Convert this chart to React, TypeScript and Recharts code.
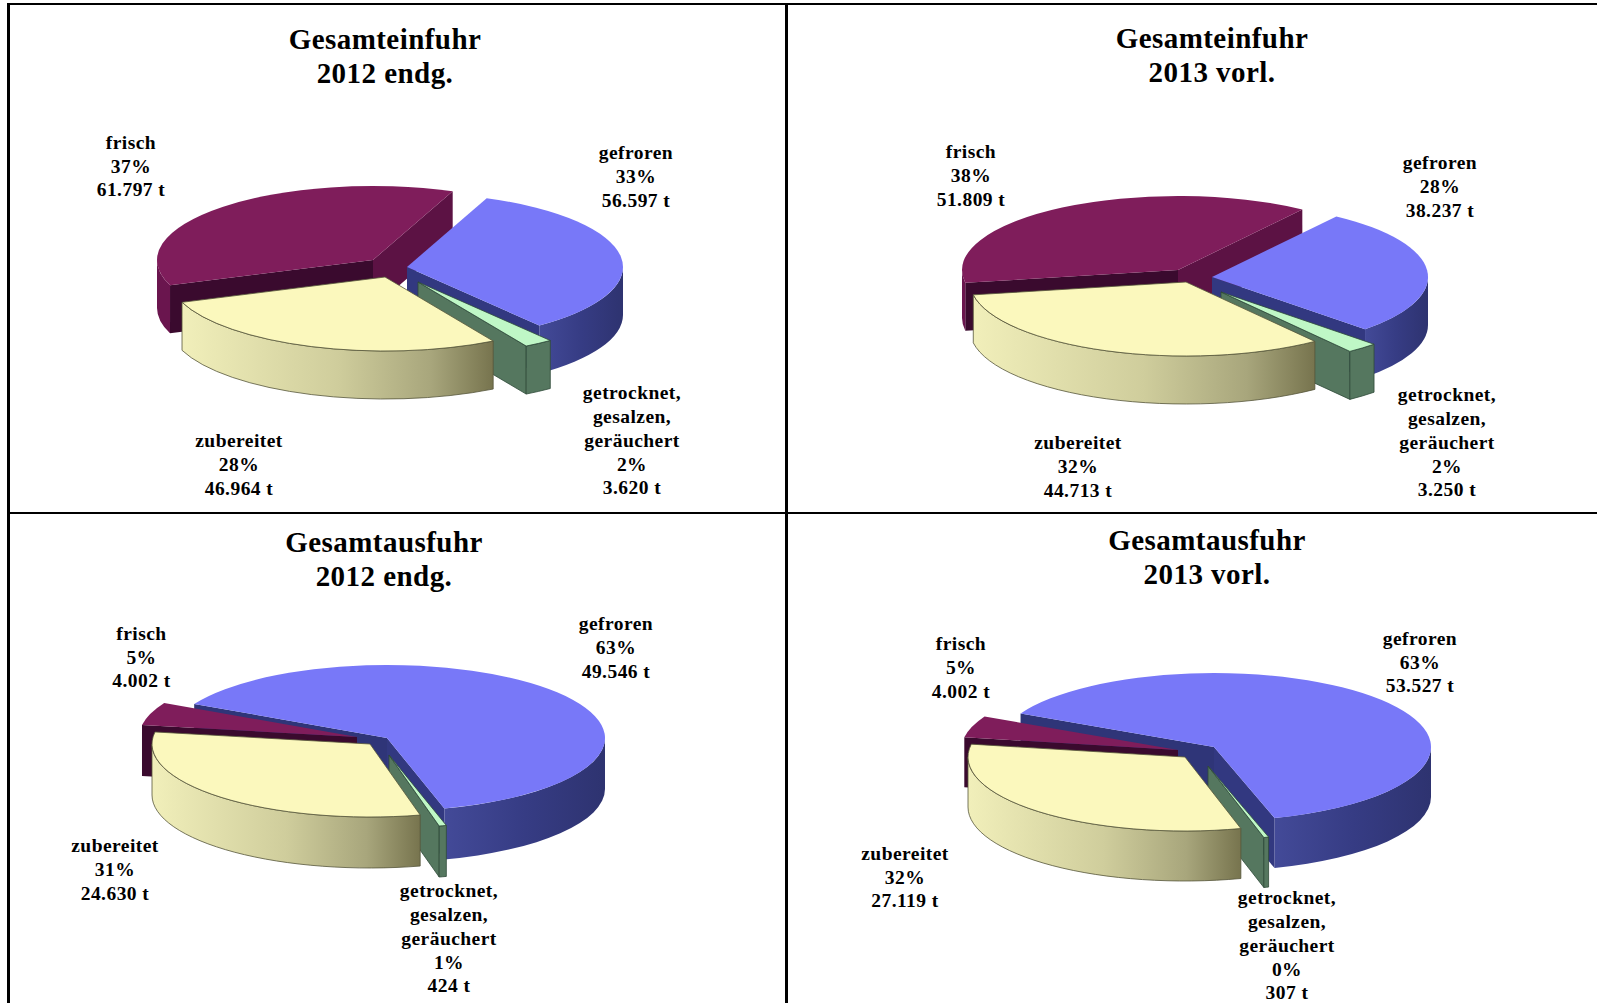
import React from "react";
import { PieChart, Pie } from "recharts";

const categories = ["frisch", "gefroren", "getrocknet", "zubereitet"];
const labelLines: Record<string, string[]> = {
  frisch: ["frisch"],
  gefroren: ["gefroren"],
  getrocknet: ["getrocknet,", "gesalzen,", "geräuchert"],
  zubereitet: ["zubereitet"],
};

const import2012 = [61797, 56597, 3620, 46964];
const import2013 = [51809, 38237, 3250, 44713];
const export2012 = [4002, 49546, 424, 24630];
const export2013 = [4002, 53527, 307, 27119];

const topColors = ["#7f1d5b", "#7878f8", "#bff7c6", "#fbf8bd"];
const wallColors = ["#6a154e", "#353b82", "#55775f", "#d8d6a4"];
const startWallColors = ["#3a0a2e", "#2f3578", "#55775f", "#d8d6a4"];
const endWallColors = ["#5c1244", "#323880", "#55775f", "#d8d6a4"];

type Panel = {
  id: string;
  title: string[];
  titleX: number;
  titleY: number;
  values: number[];
  cx: number;
  cy: number;
  rx: number;
  ry: number;
  depth: number;
  startAngle: number;
  explode: number[][];
  labels: number[][];
  layers: number[][];
};

const panels: Panel[] = [
  {
    id: "a", title: ["Gesamteinfuhr", "2012 endg."], titleX: 385, titleY: 39, values: import2012,
    cx: 390, cy: 270, rx: 216, ry: 74, depth: 48, startAngle: 200,
    explode: [[-17, -10], [17, -3], [28, 12], [-5, 7]],
    labels: [[131, 142.5], [636, 153], [632, 393], [239, 441]],
    layers: [[0, 1, 2, 3]],
  },
  {
    id: "b", title: ["Gesamteinfuhr", "2013 vorl."], titleX: 1212, titleY: 38, values: import2013,
    cx: 1195, cy: 278, rx: 216, ry: 74, depth: 48, startAngle: 190,
    explode: [[-17, -8], [17, -1], [26, 14], [-9, 4]],
    labels: [[971, 152], [1440, 163], [1447, 395], [1078, 443]],
    layers: [[0, 1, 2, 3]],
  },
  {
    id: "c", title: ["Gesamtausfuhr", "2012 endg."], titleX: 384, titleY: 542, values: export2012,
    cx: 372, cy: 742, rx: 218, ry: 73, depth: 51, startAngle: 170.5,
    explode: [[-15, -5], [15, -4], [17, 13], [-2, 2]],
    labels: [[141.5, 633.5], [616, 624], [449, 891], [115, 846]],
    layers: [[1], [0, 2, 3]],
  },
  {
    id: "d", title: ["Gesamtausfuhr", "2013 vorl."], titleX: 1207, titleY: 540, values: export2013,
    cx: 1195, cy: 752, rx: 217, ry: 74, depth: 50, startAngle: 170,
    explode: [[-17, -2], [19, -5], [13, 14], [-10, 5]],
    labels: [[961, 644], [1420, 638.5], [1287, 898], [905, 853.5]],
    layers: [[1], [0, 2, 3]],
  },
];

const rad = (a: number) => (a * Math.PI) / 180;

function makeSlice(panel: Panel, layer: number[], layerIndex: number) {
  return function Slice(props: any) {
    const name = props.name ?? props.payload?.name;
    const i = categories.indexOf(name);
    if (!layer.includes(i)) return <g />;
    const [ox, oy] = panel.explode[i];
    const ax = props.cx + ox;
    const ay = props.cy + oy;
    const { rx, ry, depth } = panel;
    const a0: number = props.startAngle;
    const a1: number = props.endAngle;
    const pt = (a: number, d = 0): [number, number] => [
      ax + rx * Math.cos(rad(a)),
      ay - ry * Math.sin(rad(a)) + d,
    ];
    const [sx, sy] = pt(a0);
    const [ex, ey] = pt(a1);
    const large = a0 - a1 > 180 ? 1 : 0;
    const top = `M${ax},${ay}L${sx},${sy}A${rx},${ry} 0 ${large} 1 ${ex},${ey}Z`;
    const wallPath = (a: number) => {
      const [x, y] = pt(a);
      return `M${ax},${ay}L${x},${y}L${x},${y + depth}L${ax},${ay + depth}Z`;
    };
    const arcs: string[] = [];
    for (let k = -1; k <= 1; k++) {
      const hi = Math.min(a0, 360 * k);
      const lo = Math.max(a1, 360 * k - 180);
      if (hi > lo) {
        const [x0, y0] = pt(hi);
        const [x1, y1] = pt(lo);
        arcs.push(
          `M${x0},${y0}A${rx},${ry} 0 0 1 ${x1},${y1}L${x1},${y1 + depth}A${rx},${ry} 0 0 0 ${x0},${y0 + depth}Z`,
        );
      }
    }
    const gradId = `side-${panel.id}-${layerIndex}-${i}`;
    const edge = i === 3 ? "#55553a" : i === 2 ? "#2f4a38" : "none";
    return (
      <g>
        <defs>
          {i === 3 && (
            <linearGradient id={gradId} x1="0" x2="1" y1="0" y2="0">
              <stop offset="0" stopColor="#f1efba" />
              <stop offset="0.5" stopColor="#cfcd9c" />
              <stop offset="0.8" stopColor="#a8a67c" />
              <stop offset="1" stopColor="#77744e" />
            </linearGradient>
          )}
          {i === 1 && (
            <linearGradient id={gradId} x1="0" x2="1" y1="0" y2="0">
              <stop offset="0" stopColor="#434a98" />
              <stop offset="0.5" stopColor="#363c84" />
              <stop offset="1" stopColor="#2e3370" />
            </linearGradient>
          )}
        </defs>
        {Math.cos(rad(a0)) < 0 && (
          <path d={wallPath(a0)} fill={startWallColors[i]} stroke={edge} strokeWidth={0.8} />
        )}
        {Math.cos(rad(a1)) > 0 && (
          <path d={wallPath(a1)} fill={endWallColors[i]} stroke={edge} strokeWidth={0.8} />
        )}
        {arcs.map((d) => (
          <path
            key={d}
            d={d}
            fill={i === 1 || i === 3 ? `url(#${gradId})` : wallColors[i]}
            stroke={edge}
            strokeWidth={0.8}
          />
        ))}
        <path d={top} fill={topColors[i]} stroke={edge} strokeWidth={0.8} />
      </g>
    );
  };
}

function makeLabel(panel: Panel) {
  return function SliceLabel(props: any) {
    const name: string = props.name ?? props.payload?.name;
    const i = categories.indexOf(name);
    const [x, y] = panel.labels[i];
    const lines = [
      ...labelLines[name],
      `${Math.round(props.percent * 100)}%`,
      `${panel.values[i].toLocaleString("de-DE")} t`,
    ];
    return (
      <text
        x={x}
        y={y}
        textAnchor="middle"
        fontFamily="'Liberation Serif', serif"
        fontWeight={700}
        fontSize={19.5}
        letterSpacing={0.45}
        fill="#000"
      >
        {lines.map((line, n) => (
          <tspan key={n} x={x} y={y + n * 23.7} dy="0.33em">
            {line}
          </tspan>
        ))}
      </text>
    );
  };
}

const ruleStyle = (left: number, top: number, width: number, height: number): React.CSSProperties => ({
  position: "absolute",
  left,
  top,
  width,
  height,
  background: "#000",
});

export default function App() {
  return (
    <div
      style={{
        position: "absolute",
        left: 0,
        top: 0,
        width: 1597,
        height: 1003,
        overflow: "hidden",
        background: "#fff",
      }}
    >
      <PieChart
        width={1597}
        height={1003}
        margin={{ top: 0, right: 0, bottom: 0, left: 0 }}
        style={{ position: "absolute", left: 0, top: 0 }}
      >
        {panels.flatMap((panel) =>
          panel.layers.map((layer, layerIndex) => (
            <Pie
              key={`${panel.id}-${layerIndex}`}
              data={categories.map((name, i) => ({ name, value: panel.values[i] }))}
              dataKey="value"
              nameKey="name"
              cx={panel.cx}
              cy={panel.cy}
              innerRadius={0}
              outerRadius={panel.rx}
              startAngle={panel.startAngle}
              endAngle={panel.startAngle - 360}
              paddingAngle={0}
              stroke="none"
              shape={makeSlice(panel, layer, layerIndex)}
              label={layerIndex === 0 ? makeLabel(panel) : false}
              labelLine={false}
              isAnimationActive={false}
            />
          )),
        )}
      </PieChart>
      <div style={ruleStyle(7, 3, 1590, 2)} />
      <div style={ruleStyle(7, 3, 3, 1000)} />
      <div style={ruleStyle(785, 3, 3, 1000)} />
      <div style={ruleStyle(7, 512, 1590, 2)} />
      {panels.map((panel) => (
        <div
          key={panel.id}
          style={{
            position: "absolute",
            left: panel.titleX - 200,
            top: panel.titleY - 17,
            width: 400,
            textAlign: "center",
            fontFamily: "'Liberation Serif', serif",
            fontWeight: 700,
            fontSize: 29,
            letterSpacing: 0.45,
            lineHeight: "34px",
            color: "#000",
          }}
        >
          {panel.title.map((t) => (
            <div key={t}>{t}</div>
          ))}
        </div>
      ))}
    </div>
  );
}
